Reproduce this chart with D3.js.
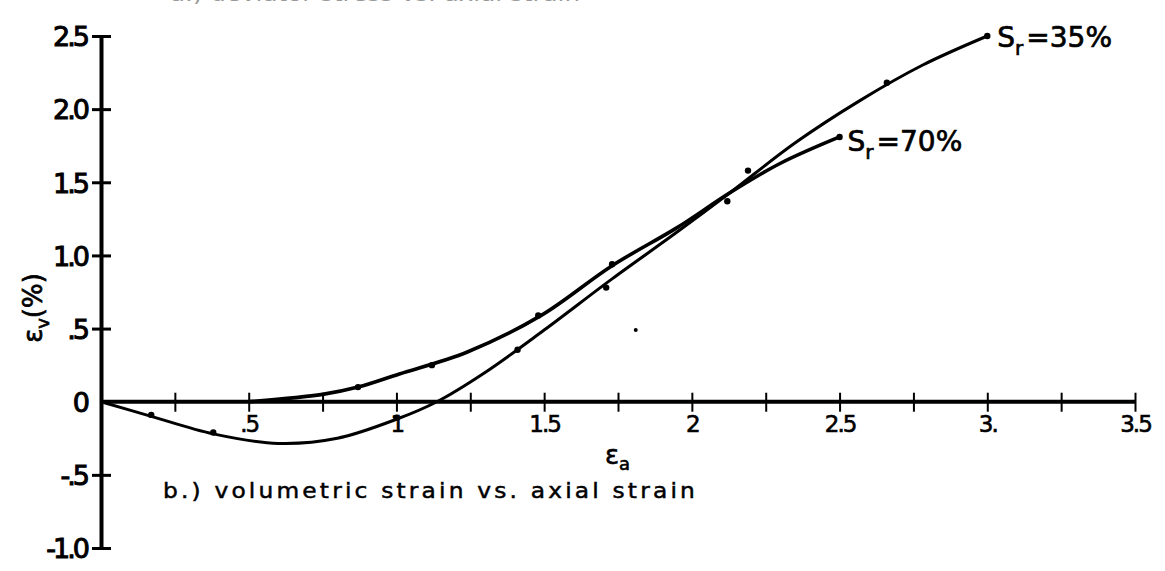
<!DOCTYPE html>
<html>
<head>
<meta charset="utf-8">
<script src="https://cdn.jsdelivr.net/npm/d3@7"></script>
<style>
  body { margin: 0; background: #fff; }
  svg { display: block; }
  text { font-family: "DejaVu Sans", sans-serif; fill: #000; }
</style>
</head>
<body>
<svg></svg>
<script>
const size = { w: 1165, h: 571 };

// tick values and their hand-lettered labels
const xTicks = [0.25, 0.5, 0.75, 1, 1.25, 1.5, 1.75, 2, 2.25, 2.5, 2.75, 3, 3.25, 3.5];
const xTickLabels = { 0.5: ".5", 1: "1", 1.5: "1.5", 2: "2", 2.5: "2.5", 3: "3.", 3.5: "3.5" };
const yTicks = [-1, -0.5, 0, 0.5, 1, 1.5, 2, 2.5];
const yTickLabels = { "-1": "-1.0", "-0.5": "-.5", 0: "0", 0.5: ".5", 1: "1.0", 1.5: "1.5", 2: "2.0", 2.5: "2.5" };

// curve Sr = 35% (dips below zero first)
const sr35Curve = [
	[0, 0], [0.17, -0.1], [0.38, -0.22], [0.6, -0.285], [0.8, -0.25], [1.0, -0.12],
	[1.137, 0], [1.3, 0.2], [1.5, 0.49], [1.73, 0.84], [1.95, 1.16], [2.13, 1.43],
	[2.35, 1.77], [2.57, 2.06], [2.78, 2.3], [3.0, 2.5]
];
// curve Sr = 70%
const sr70Curve = [
	[0.5, 0], [0.75, 0.05], [0.87, 0.1], [1.01, 0.19], [1.24, 0.34], [1.49, 0.59],
	[1.73, 0.93], [1.95, 1.19], [2.13, 1.43], [2.3, 1.63], [2.5, 1.81]
];
// measured points (dots)
const sr35Points = [[0.17, -0.09], [0.38, -0.21], [1.0, -0.11], [1.41, 0.355], [1.71, 0.78], [2.19, 1.58], [2.66, 2.18], [3.0, 2.5]];
const sr70Points = [[0.87, 0.1], [1.12, 0.25], [1.48, 0.59], [1.73, 0.94], [2.12, 1.37], [2.5, 1.81]];
const strayPoints = [[1.81, 0.49]];

const svg = d3.select("svg").attr("width", size.w).attr("height", size.h);

const x = d3.scaleLinear().domain([0, 3.5]).range([101, 1135]);
const y = d3.scaleLinear().domain([-1, 2.5]).range([548, 36]);

// cut-off caption of the panel above (only its bottom edge shows)
svg.append("text")
	.attr("x", 170).attr("y", 1)
	.attr("font-size", 22)
	.attr("textLength", 410)
	.attr("lengthAdjust", "spacingAndGlyphs")
	.style("fill", "#999")
	.text("a.) deviator stress vs. axial strain");

// x axis along y = 0, ticks crossing the line
const xAxisG = svg.append("g")
	.attr("transform", `translate(0,${y(0)})`)
	.call(d3.axisBottom(x).tickValues(xTicks).tickSizeOuter(0)
		.tickFormat((d) => xTickLabels[d] || ""));
xAxisG.select(".domain").attr("stroke-width", 4).attr("d", `M${x(0)},0H${x(3.5)}`);
xAxisG.selectAll(".tick line").attr("y1", -9).attr("y2", 10).attr("stroke-width", 2);
xAxisG.selectAll(".tick text")
	.attr("y", 30).attr("dy", 0)
	.attr("font-size", 23)
	.attr("font-family", "DejaVu Sans")
	.attr("letter-spacing", -2)
	.attr("stroke", "#000").attr("stroke-width", 0.6);

// y axis
const yAxisG = svg.append("g")
	.attr("transform", `translate(${x(0)},0)`)
	.call(d3.axisLeft(y).tickValues(yTicks).tickSizeOuter(0)
		.tickFormat((d) => yTickLabels[d]));
yAxisG.select(".domain").attr("stroke-width", 4);
yAxisG.selectAll(".tick line").attr("x1", -9).attr("x2", 10).attr("stroke-width", 3)
	.attr("opacity", (d) => (d === 0 ? 0 : 1));
yAxisG.selectAll(".tick text")
	.attr("x", -14).attr("dy", "0.36em")
	.attr("font-size", 27)
	.attr("font-family", "DejaVu Sans")
	.attr("letter-spacing", -3)
	.attr("stroke", "#000").attr("stroke-width", 1);

// curves
const line = d3.line()
	.x((d) => x(d[0]))
	.y((d) => y(d[1]))
	.curve(d3.curveCatmullRom.alpha(0.5));

svg.append("path").datum(sr35Curve)
	.attr("d", line).attr("fill", "none").attr("stroke", "#000").attr("stroke-width", 3);
svg.append("path").datum(sr70Curve)
	.attr("d", line).attr("fill", "none").attr("stroke", "#000").attr("stroke-width", 3.6);

svg.append("g").selectAll("circle")
	.data(sr35Points.concat(sr70Points))
	.join("circle")
	.attr("cx", (d) => x(d[0]))
	.attr("cy", (d) => y(d[1]))
	.attr("r", 3.2);
svg.append("g").selectAll("circle")
	.data(strayPoints)
	.join("circle")
	.attr("cx", (d) => x(d[0]))
	.attr("cy", (d) => y(d[1]))
	.attr("r", 2);

// series labels
function srLabel(px, py, pct) {
	const t = svg.append("text").attr("x", px).attr("y", py).attr("font-size", 28)
		.attr("stroke", "#000").attr("stroke-width", 0.7);
	t.append("tspan").text("S");
	t.append("tspan").attr("font-size", 20).attr("dy", 8).text("r");
	t.append("tspan").attr("dy", -8).attr("dx", 3).text("=" + pct + "%");
}
srLabel(x(3.0) + 10, y(2.5) + 11, 35);
srLabel(x(2.5) + 8, y(1.81) + 14, 70);

// axis titles
const yLab = svg.append("text")
	.attr("transform", "translate(42,308) rotate(-90)")
	.attr("text-anchor", "middle")
	.attr("font-size", 26)
	.attr("stroke", "#000").attr("stroke-width", 0.7);
yLab.append("tspan").text("ε");
yLab.append("tspan").attr("font-size", 18).attr("dy", 7).text("v");
yLab.append("tspan").attr("dy", -7).text("(%)");

const xLab = svg.append("text").attr("x", 605).attr("y", 464).attr("font-size", 26)
	.attr("stroke", "#000").attr("stroke-width", 0.6);
xLab.append("tspan").text("ε");
xLab.append("tspan").attr("font-size", 18).attr("dy", 6).text("a");

// panel caption
svg.append("text")
	.attr("x", 163).attr("y", 498)
	.attr("font-size", 22)
	.attr("textLength", 535)
	.attr("lengthAdjust", "spacingAndGlyphs")
	.attr("letter-spacing", 3)
	.attr("stroke", "#000").attr("stroke-width", 0.5)
	.text("b.) volumetric strain vs. axial strain");
</script>
</body>
</html>
